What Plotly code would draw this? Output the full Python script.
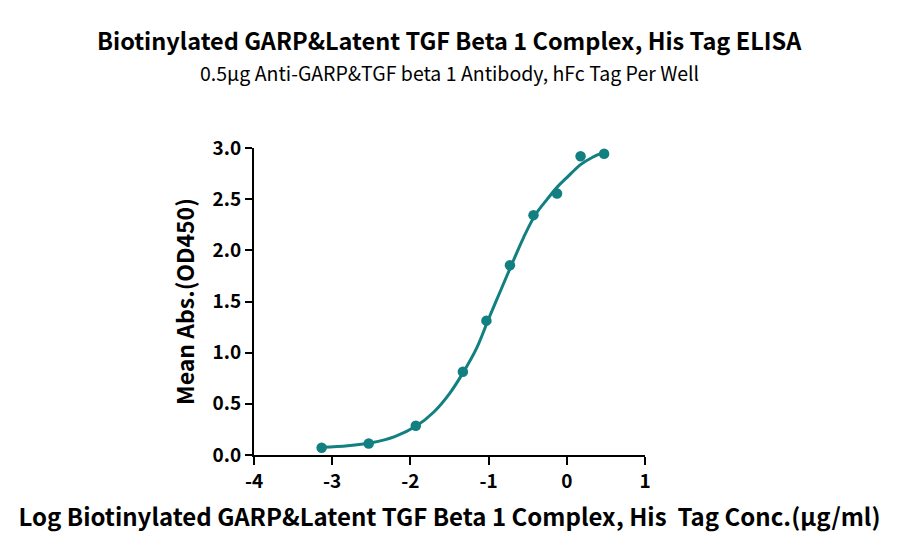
import plotly.graph_objects as go

# measured points (log conc vs mean OD450)
log_conc = [-3.135, -2.533, -1.931, -1.329, -1.028, -0.727, -0.426, -0.125, 0.176, 0.477]
mean_abs = [0.071, 0.113, 0.286, 0.813, 1.313, 1.854, 2.344, 2.556, 2.92, 2.943]

# fitted curve
curve_x = [-3.13, -2.8, -2.5, -2.2, -1.93, -1.7, -1.5, -1.33, -1.15, -1.0, -0.85,
           -0.7, -0.55, -0.4, -0.25, -0.12, 0.0, 0.18, 0.33, 0.48]
curve_y = [0.075, 0.09, 0.12, 0.18, 0.28, 0.42, 0.6, 0.8, 1.05, 1.33, 1.6,
           1.87, 2.13, 2.35, 2.5, 2.62, 2.71, 2.84, 2.91, 2.96]

x_ticks = [-4, -3, -2, -1, 0, 1]
y_ticks = [0.0, 0.5, 1.0, 1.5, 2.0, 2.5, 3.0]

teal = "#127f80"
font = "Noto Sans CJK SC"

# plot area in figure pixels (page has 8px body margin)
top, bottom = 140, 447
ph = bottom - top

fig = go.Figure()
fig.add_trace(go.Scatter(x=curve_x, y=curve_y, mode="lines",
                         line=dict(color=teal, width=3, shape="spline"),
                         hoverinfo="skip", cliponaxis=False))
fig.add_trace(go.Scatter(x=log_conc, y=mean_abs, mode="markers",
                         marker=dict(color=teal, size=10.5), cliponaxis=False))

fig.update_layout(
    width=900, height=557,
    margin=dict(l=246, r=263, t=top, b=557 - bottom),
    paper_bgcolor="white", plot_bgcolor="white",
    showlegend=False,
    font=dict(family=font, color="black"),
)
fig.add_annotation(text="<b>Biotinylated GARP&Latent TGF Beta 1 Complex, His Tag ELISA</b>",
                   x=0.5, y=(bottom - 32) / ph, xref="paper", yref="paper",
                   showarrow=False, font=dict(size=23.5, family=font), yanchor="middle")
fig.add_annotation(text="0.5μg Anti-GARP&TGF beta 1 Antibody, hFc Tag Per Well",
                   x=0.5, y=(bottom - 65) / ph, xref="paper", yref="paper",
                   showarrow=False, font=dict(size=19.5, family=font), yanchor="middle")

fig.update_xaxes(range=[-4, 1], tickvals=x_ticks, ticktext=[str(t) for t in x_ticks],
                 showgrid=False, zeroline=False, showline=True, linecolor="black", linewidth=2,
                 ticks="outside", ticklen=8, tickwidth=2, tickcolor="black",
                 tickfont=dict(size=19, family=font, weight="bold"),
                 title=dict(text="<b>Log Biotinylated GARP&Latent TGF Beta 1 Complex, His  Tag Conc.(μg/ml)</b>",
                            font=dict(size=24, family=font), standoff=17))
fig.update_yaxes(range=[0, 3], tickvals=y_ticks, ticktext=[f"{t:.1f}" for t in y_ticks],
                 showgrid=False, zeroline=False, showline=True, linecolor="black", linewidth=2,
                 ticks="outside", ticklen=7, tickwidth=2, tickcolor="black",
                 tickfont=dict(size=19, family=font, weight="bold"),
                 title=dict(text="<b>Mean Abs.(OD450)</b>", font=dict(size=23, family=font), standoff=12))

fig.write_html("out.html")
